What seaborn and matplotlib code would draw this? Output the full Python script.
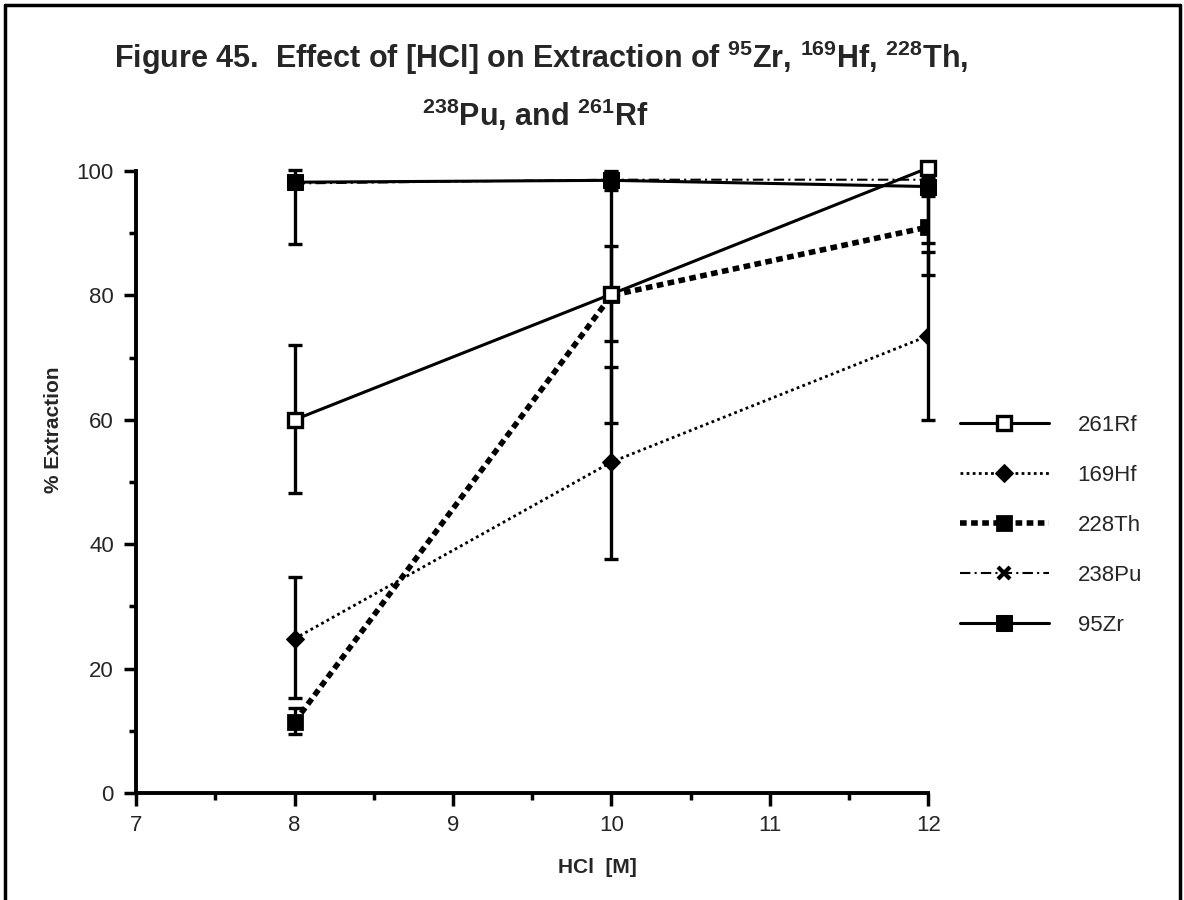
import numpy as np
import pandas as pd
import matplotlib
matplotlib.use("Agg")
import matplotlib.pyplot as plt
from matplotlib.lines import Line2D
from matplotlib.ticker import MultipleLocator
import seaborn as sns

# datos
hcl = [8, 10, 12]
rf = [60.0, 80.2, 100.5]
rf_lo = [11.8, 7.5, 12.1]
rf_hi = [12.0, 7.8, 0.0]
hf = [24.8, 53.2, 73.5]
hf_lo = [9.5, 15.6, 13.6]
hf_hi = [9.9, 15.3, 13.4]
th = [11.4, 80.0, 91.0]
th_lo = [2.0, 20.5, 7.7]
th_hi = [2.3, 19.8, 7.5]
pu = [98.0, 98.6, 98.6]
zr = [98.2, 98.5, 97.5]
zr_lo = [10.0, 1.5, 1.5]
zr_hi = [2.0, 1.5, 1.5]

series_names = ["261Rf", "169Hf", "228Th", "238Pu", "95Zr"]

sns.set_style("ticks")
plt.rcParams['font.family'] = ['Liberation Sans', 'DejaVu Sans']
plt.rcParams['mathtext.fontset'] = 'custom'
plt.rcParams['mathtext.bf'] = 'Liberation Sans:bold'
plt.rcParams['mathtext.rm'] = 'Liberation Sans:bold'

fig = plt.figure(figsize=(11.84, 9), dpi=100)
ax = fig.add_axes([0.115, 0.119, 0.669, 0.691])

df = pd.DataFrame({"hcl": hcl, "rf": rf, "hf": hf, "th": th, "pu": pu, "zr": zr})

# barras de error primero
for vals, lo, hi in [(rf, rf_lo, rf_hi), (hf, hf_lo, hf_hi),
                     (th, th_lo, th_hi), (zr, zr_lo, zr_hi)]:
    ax.errorbar(hcl, vals, yerr=[lo, hi], fmt="none", ecolor="black",
                elinewidth=2.4, capsize=5, capthick=2.4, zorder=2,
                clip_on=False)

sns.lineplot(data=df, x="hcl", y="rf", ax=ax, color="black", lw=2.2,
             marker="s", markersize=10, markerfacecolor="white",
             markeredgecolor="black", markeredgewidth=2.4,
             label=series_names[0], clip_on=False, zorder=4)
sns.lineplot(data=df, x="hcl", y="hf", ax=ax, color="black", lw=2,
             linestyle=(0, (1, 1.2)), marker="D", markersize=9,
             markerfacecolor="black", markeredgecolor="black",
             label=series_names[1], zorder=4)
sns.lineplot(data=df, x="hcl", y="th", ax=ax, color="black", lw=4,
             linestyle=(0, (1.2, 0.8)), marker="s", markersize=10,
             markerfacecolor="black", markeredgecolor="black",
             markeredgewidth=2, label=series_names[2], zorder=3)
sns.lineplot(data=df, x="hcl", y="pu", ax=ax, color="black", lw=1.5,
             linestyle=(0, (5, 2, 1, 2)), marker="x", markersize=9,
             markeredgecolor="black", markeredgewidth=3,
             label=series_names[3], zorder=3)
sns.lineplot(data=df, x="hcl", y="zr", ax=ax, color="black", lw=2.2,
             marker="s", markersize=11, markerfacecolor="black",
             markeredgecolor="black", label=series_names[4],
             clip_on=False, zorder=4)

ax.set_xlim(7, 12)
ax.set_ylim(0, 100)
ax.set_xticks([7, 8, 9, 10, 11, 12])
ax.set_xticklabels(["7", "8", "9", "10", "11", "12"])
ax.set_yticks([0, 20, 40, 60, 80, 100])
ax.set_yticklabels(["0", "20", "40", "60", "80", "100"])
ax.xaxis.set_minor_locator(MultipleLocator(0.5))
ax.yaxis.set_minor_locator(MultipleLocator(10))
ax.tick_params(axis="both", which="major", length=9, width=2.5,
               labelsize=16, direction="out", color="black", pad=7)
ax.tick_params(axis="both", which="minor", length=5, width=2.5,
               direction="out", color="black")

for side in ["top", "right"]:
    ax.spines[side].set_visible(False)
for side in ["left", "bottom"]:
    ax.spines[side].set_linewidth(2.8)
    ax.spines[side].set_color("black")

ax.set_xlabel("HCl  [M]", fontsize=15, fontweight="bold")
ax.set_ylabel("% Extraction", fontsize=15, fontweight="bold")
ax.xaxis.set_label_coords(0.582, -0.104)
ax.yaxis.set_label_coords(-0.092, 0.584)

leg = ax.legend(loc="center left", bbox_to_anchor=(1.040, 0.43),
                frameon=False, fontsize=16, handlelength=4.0,
                labelspacing=1.3, handletextpad=1.3, borderpad=0,
                borderaxespad=0)

fig.text(0.457, 0.936,
         r"Figure 45.  Effect of [HCl] on Extraction of $^{95}$Zr, "
         r"$^{169}$Hf, $^{228}$Th,",
         ha="center", va="center", fontsize=22, fontweight="bold")
fig.text(0.452, 0.872, r"$^{238}$Pu, and $^{261}$Rf",
         ha="center", va="center", fontsize=22, fontweight="bold")

# marco alrededor de la figura
fig.add_artist(Line2D([0.004, 0.004], [0.0, 0.995], transform=fig.transFigure,
                      color="black", lw=2.5))
fig.add_artist(Line2D([0.004, 0.997], [0.995, 0.995], transform=fig.transFigure,
                      color="black", lw=2.5))
fig.add_artist(Line2D([0.997, 0.997], [0.0, 0.995], transform=fig.transFigure,
                      color="black", lw=2.5))

fig.savefig("out.png", dpi=100)
